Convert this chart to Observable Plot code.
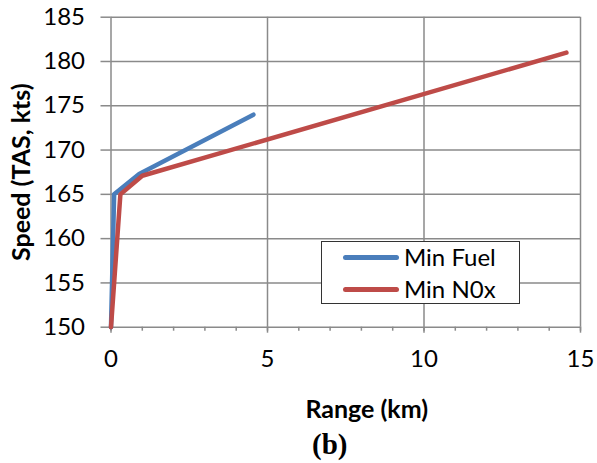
<!DOCTYPE html>
<html>
<head>
<meta charset="utf-8">
<script src="https://cdn.jsdelivr.net/npm/d3@7"></script>
<script src="https://cdn.jsdelivr.net/npm/@observablehq/plot@0.6"></script>
<style>
  html, body { margin: 0; padding: 0; background: #fff; }
  #wrap { position: relative; width: 597px; height: 463px; font-family: Lato, "Open Sans", sans-serif; }
  #legend { position: absolute; left: 321px; top: 241px; width: 199px; height: 63px; border: 1.5px solid #333; background: #fff; box-sizing: border-box; }
  .item { position: absolute; left: 21px; display: flex; align-items: center; font-size: 24px; line-height: 28px; color: #000; }
  .sw { width: 56px; height: 5px; border-radius: 3px; margin-right: 5px; }
</style>
</head>
<body>
<div id="wrap"></div>
<script>
// Data
const fuelRange = [0, 0.1, 0.9, 4.55];
const fuelSpeed = [150, 165, 167.3, 174];
const noxRange = [0, 0.3, 1.0, 14.55];
const noxSpeed = [150, 165, 167.1, 181];
const seriesNames = ["Min Fuel", "Min N0x"];
const seriesColors = ["#4a7ebb", "#be4b48"];
const xMajorTicks = [0, 5, 10, 15];
const xMinorTicks = [0,1,2,3,4,5,6,7,8,9,10,11,12,13,14,15];
const yTicks = [150, 155, 160, 165, 170, 175, 180, 185];

const fuel = fuelRange.map((r, i) => ({range: r, speed: fuelSpeed[i], series: seriesNames[0]}));
const nox = noxRange.map((r, i) => ({range: r, speed: noxSpeed[i], series: seriesNames[1]}));

const grid = "#8a8a8a";
const font = "Lato, 'Open Sans', sans-serif";
const chart = Plot.plot({
  width: 597,
  height: 463,
  marginLeft: 110.5,
  marginRight: 17,
  marginTop: 16.7,
  marginBottom: 136.3,
  style: {fontFamily: font, background: "#fff", overflow: "visible"},
  x: {domain: [0, 15]},
  y: {domain: [150, 185]},
  marks: [
    Plot.ruleY(yTicks, {y: d => d, stroke: grid, strokeWidth: 1.5, strokeOpacity: 1}),
    Plot.ruleX(xMajorTicks, {x: d => d, stroke: grid, strokeWidth: 1.5, strokeOpacity: 1}),
    Plot.axisY({ticks: yTicks, tickSize: 10, tickPadding: 16, fontSize: 24, stroke: grid, strokeWidth: 1.5, strokeOpacity: 1, label: null, color: "#000"}),
    Plot.axisX({ticks: xMinorTicks, tickSize: 4, stroke: grid, strokeWidth: 1.5, strokeOpacity: 1, text: null, label: null}),
    Plot.axisX({ticks: xMajorTicks, tickSize: 6, tickPadding: 17, fontSize: 24, stroke: grid, strokeWidth: 1.5, strokeOpacity: 1, label: null, color: "#000"}),
    Plot.line(fuel, {x: "range", y: "speed", stroke: seriesColors[0], strokeWidth: 4.5, strokeLinejoin: "round", strokeLinecap: "round"}),
    Plot.line(nox, {x: "range", y: "speed", stroke: seriesColors[1], strokeWidth: 4.5, strokeLinejoin: "round", strokeLinecap: "round"}),
    Plot.text(["Speed (TAS, kts)"], {frameAnchor: "left", textAnchor: "middle", lineAnchor: "middle", text: d => d, rotate: -90, dx: -89.5, dy: 0, fontSize: 25, fontWeight: "bold", fill: "#000"}),
    Plot.text(["Range (km)"], {frameAnchor: "bottom", textAnchor: "middle", lineAnchor: "middle", text: d => d, dx: 21, dy: 83, fontSize: 25, fontWeight: "bold", fill: "#000"}),
    Plot.text(["(b)"], {frameAnchor: "bottom", textAnchor: "middle", lineAnchor: "middle", text: d => d, dx: -16, dy: 118, fontSize: 29, fontWeight: "bold", fontFamily: "'Liberation Serif', 'DejaVu Serif', serif", fill: "#000"})
  ]
});
const wrap = document.getElementById("wrap");
wrap.appendChild(chart);
const legend = document.createElement("div");
legend.id = "legend";
seriesNames.forEach((name, i) => {
  const it = document.createElement("div");
  it.className = "item";
  it.style.top = (i === 0 ? 1 : 33) + "px";
  it.innerHTML = `<span class="sw" style="background:${seriesColors[i]}"></span><span>${name}</span>`;
  legend.appendChild(it);
});
wrap.appendChild(legend);
</script>
</body>
</html>
